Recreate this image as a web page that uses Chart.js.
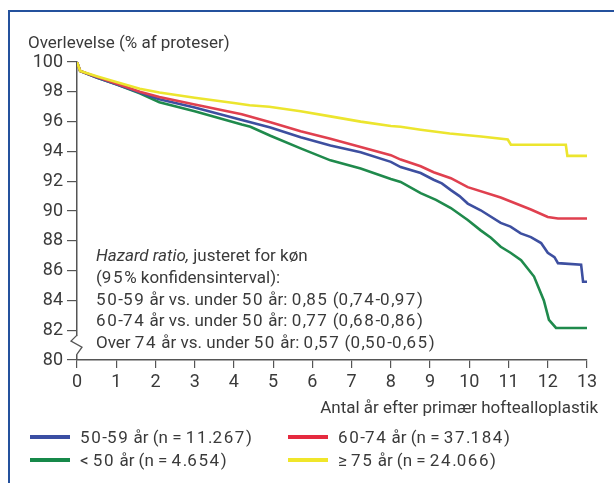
<!DOCTYPE html>
<html><head><meta charset="utf-8">
<script src="https://cdn.jsdelivr.net/npm/chart.js@4.4.1/dist/chart.umd.min.js"></script>
<style>
html,body{margin:0;padding:0;background:#fff;}
#wrap{position:relative;width:614px;height:483px;overflow:hidden;font-family:Roboto,sans-serif;color:#3a3a3a;}
#frame{position:absolute;left:8px;top:10px;width:700px;height:600px;border-top:2px solid #24519d;border-left:2px solid #24519d;}
#c{position:absolute;left:0;top:0;}
.t{position:absolute;white-space:nowrap;font-size:17px;line-height:20px;height:20px;}
.d{letter-spacing:1.6px;}
.ln{position:absolute;height:4px;width:40px;}
</style></head>
<body><div id="wrap">
<div id="frame"></div>
<canvas id="c" width="614" height="483"></canvas>
<div class="t" style="left:28px;top:32px;">Overlevelse (% af proteser)</div>
<div class="t w" style="left:96px;top:245px;"><i>Hazard ratio,</i> justeret for køn</div>
<div class="t w" style="left:96px;top:267px;">(95% konfidensinterval):</div>
<div class="t w" style="left:96px;top:289px;">50-59 år vs. under 50 år: 0,85 (0,74-0,97)</div>
<div class="t w" style="left:96px;top:310px;">60-74 år vs. under 50 år: 0,77 (0,68-0,86)</div>
<div class="t w" style="left:96px;top:332px;">Over 74 år vs. under 50 år: 0,57 (0,50-0,65)</div>
<div class="t" style="right:16px;top:397px;">Antal år efter primær hoftealloplastik</div>
<div class="ln" style="left:30px;top:435px;background:#3a4ea3;"></div>
<div class="t w" style="left:80px;top:427px;">50-59 år (n = 11.267)</div>
<div class="ln" style="left:288px;top:435px;background:#e52a3f;"></div>
<div class="t w" style="left:338px;top:427px;">60-74 år (n = 37.184)</div>
<div class="ln" style="left:30px;top:458px;background:#17894a;"></div>
<div class="t w" style="left:80px;top:450px;">&lt; 50 år (n = 4.654)</div>
<div class="ln" style="left:288px;top:458px;background:#f0e62a;"></div>
<div class="t w" style="left:338px;top:450px;">≥ 75 år (n = 24.066)</div>
</div>
<script>
const yTicks = [80, 82, 84, 86, 88, 90, 92, 94, 96, 98, 100];
const xTicks = [0,1,2,3,4,5,6,7,8,9,10,11,12,13];

const yellowYears = [0, 0.08, 0.5, 1, 1.6, 2.1, 3, 4, 4.4, 4.9, 5.7, 6.46, 7.23, 8, 8.25, 8.76, 9.5, 10.3, 10.98, 11.06, 12.46, 12.5, 13];
const yellowVals  = [100, 99.4, 99.05, 98.65, 98.2, 97.95, 97.6, 97.25, 97.1, 97.0, 96.7, 96.35, 96.0, 95.7, 95.65, 95.45, 95.2, 95.0, 94.8, 94.45, 94.45, 93.7, 93.7];

const redYears = [0, 0.08, 0.5, 1, 1.6, 2.1, 3, 4.2, 4.93, 5.7, 6.46, 7.23, 8, 8.25, 8.76, 9.09, 9.53, 9.96, 10.8, 11.57, 12.0, 12.26, 13];
const redVals  = [100, 99.4, 99.0, 98.55, 98.0, 97.65, 97.15, 96.5, 95.95, 95.35, 94.85, 94.3, 93.75, 93.45, 93.0, 92.6, 92.2, 91.6, 90.9, 90.1, 89.6, 89.5, 89.5];

const blueYears = [0, 0.08, 0.5, 1, 1.6, 2.1, 3, 4.2, 4.93, 5.7, 6.46, 7.23, 8, 8.25, 8.76, 9.09, 9.3, 9.53, 9.75, 9.96, 10.29, 10.8, 11.05, 11.31, 11.57, 11.83, 12.0, 12.17, 12.26, 12.85, 12.9, 13];
const blueVals  = [100, 99.4, 98.95, 98.5, 97.95, 97.5, 96.95, 96.1, 95.6, 94.95, 94.4, 93.95, 93.3, 92.95, 92.55, 92.1, 91.85, 91.4, 91.0, 90.5, 90.05, 89.2, 88.95, 88.5, 88.25, 87.85, 87.2, 86.9, 86.5, 86.4, 85.25, 85.25];

const greenYears = [0, 0.08, 0.5, 1, 1.6, 2.1, 3, 4.2, 4.42, 4.93, 5.7, 6.46, 7.23, 8, 8.25, 8.76, 9.15, 9.53, 9.96, 10.29, 10.55, 10.8, 11.05, 11.32, 11.65, 11.9, 12.03, 12.21, 13];
const greenVals  = [100, 99.4, 98.95, 98.5, 97.9, 97.3, 96.7, 95.8, 95.65, 95.05, 94.2, 93.4, 92.85, 92.15, 91.95, 91.2, 90.75, 90.2, 89.4, 88.7, 88.2, 87.6, 87.2, 86.7, 85.6, 84.0, 82.7, 82.15, 82.15];

const seriesNames = ['≥ 75 år', '60-74 år', '50-59 år', '< 50 år'];
const seriesColors = ['#ece52e', '#e0404f', '#3d4fa0', '#1f8a4c'];

// widen digits in the text blocks (reference font has wide figures)
document.querySelectorAll('.w').forEach(el => {
  el.innerHTML = el.innerHTML.replace(/(\d+)/g, '<span class="d">$1</span>');
});

function pts(xs, ys){ return xs.map((x,i)=>({x:x, y:ys[i]})); }

const breakPlugin = {
  id:'axisBreak',
  afterDraw(chart){
    const ctx = chart.ctx, ys = chart.scales.y, xs = chart.scales.x;
    const x0 = xs.getPixelForValue(0), p = ys.getPixelForValue(81);
    ctx.save();
    ctx.fillStyle = '#fff';
    ctx.fillRect(x0-2, p-9, 4, 18);
    ctx.strokeStyle = '#555'; ctx.lineWidth = 1.3;
    ctx.beginPath();
    ctx.moveTo(x0, p-10); ctx.lineTo(x0-6, p-4); ctx.lineTo(x0+5, p+2); ctx.lineTo(x0, p+9);
    ctx.stroke();
    ctx.restore();
  }
};

new Chart(document.getElementById('c'), {
  type:'line',
  data:{ datasets:[
    {label:seriesNames[0], data:pts(yellowYears, yellowVals), borderColor:seriesColors[0]},
    {label:seriesNames[1], data:pts(redYears, redVals), borderColor:seriesColors[1]},
    {label:seriesNames[2], data:pts(blueYears, blueVals), borderColor:seriesColors[2]},
    {label:seriesNames[3], data:pts(greenYears, greenVals), borderColor:seriesColors[3]}
  ]},
  options:{
    responsive:false, animation:false,
    layout:{padding:{left:0, top:62, right:27, bottom:78}},
    elements:{ line:{borderWidth:2.6, tension:0, fill:false}, point:{radius:0} },
    plugins:{ legend:{display:false}, tooltip:{enabled:false} },
    scales:{
      x:{ type:'linear', min:0, max:13,
        afterBuildTicks(s){ s.ticks = xTicks.map(v=>({value:v})); },
        afterFit(s){ s.height = 45; },
        grid:{ drawOnChartArea:false, tickLength:8, color:'#555', lineWidth:1.2 },
        border:{ color:'#555', width:1.5 },
        ticks:{ color:'#3a3a3a', font:{family:'Roboto', size:18}, padding:4, maxRotation:0 } },
      y:{ type:'linear', min:80, max:100,
        afterBuildTicks(s){ s.ticks = yTicks.map(v=>({value:v})); },
        afterFit(s){ s.width = 77; },
        grid:{ drawOnChartArea:false, tickLength:10, color:'#555', lineWidth:1.2 },
        border:{ color:'#555', width:1.5 },
        ticks:{ color:'#3a3a3a', font:{family:'Roboto', size:18}, padding:4 } }
    }
  },
  plugins:[breakPlugin]
});
</script>
</body></html>
